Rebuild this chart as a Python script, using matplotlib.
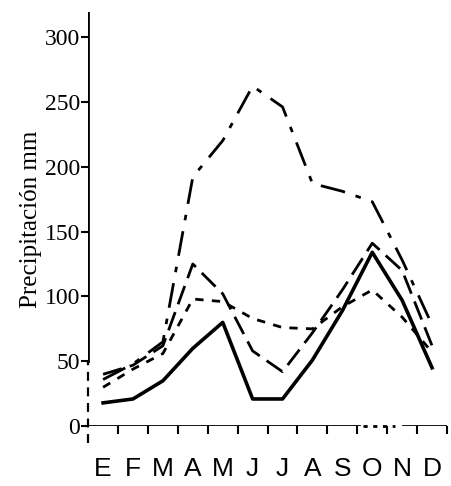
import matplotlib
matplotlib.use("Agg")
import matplotlib.pyplot as plt
import numpy as np

months = ["E", "F", "M", "A", "M", "J", "J", "A", "S", "O", "N", "D"]
y_ticks = [0, 50, 100, 150, 200, 250, 300]

# mm per month
solid = [18, 21, 35, 60, 80, 21, 21, 51, 89, 134, 97, 45]
dashed = [40, 47, 62, 125, 102, 58, 42, 72, 105, 141, 120, 62]
dashdot = [36, 48, 65, 192, 220, 262, 246, 187, 181, 173, 128, 78]
shortdash = [30, 44, 56, 98, 96, 83, 76, 75, 92, 105, 84, 57]

fig = plt.figure(figsize=(4.52, 4.86), dpi=100)
ax = fig.add_axes([0.195, 0.123, 0.794, 0.852])
x = np.arange(len(months))

ax.plot(x, dashdot, color="black", lw=2.0, ls=(0, (9, 4, 2, 4)))
ax.plot(x, shortdash, color="black", lw=2.0, ls=(0, (3, 3)))
ax.plot(x, dashed, color="black", lw=2.0, ls=(0, (7, 3)))
ax.plot(x, solid, color="black", lw=2.6)

ax.set_xlim(-0.5, 11.5)
ax.set_ylim(0, 319)

for s in ax.spines.values():
    s.set_visible(False)
# axes lines, partly broken as in the scanned original
ax.axvline(-0.5, ymin=50 / 319, ymax=1, color="black", lw=2)
ax.axvline(-0.5, ymin=-0.04, ymax=50 / 319, color="black", lw=1.6,
           ls=(0, (4, 3)), clip_on=False)
ax.axhline(0, xmin=0, xmax=0.755, color="black", lw=2)
ax.axhline(0, xmin=0.765, xmax=0.855, color="black", lw=2,
           ls=(0, (1.5, 2)), clip_on=False)
ax.axhline(0, xmin=0.878, xmax=1, color="black", lw=2)

ax.set_yticks(y_ticks)
ax.set_yticklabels([str(v) for v in y_ticks], family="Liberation Serif",
                   fontsize=17)
ax.tick_params(axis="y", direction="out", length=5, width=1.5, pad=1)

ax.set_xticks(x + 0.5)
ax.set_xticklabels([])
ax.tick_params(axis="x", which="major", direction="out", length=6, width=1.5)
ax.set_xticks(x, minor=True)
ax.set_xticklabels(months, minor=True, family="Liberation Sans", fontsize=19)
ax.tick_params(axis="x", which="minor", length=0, pad=22)

ax.set_ylabel("Precipitación mm", family="Liberation Serif", fontsize=18,
              labelpad=2)

fig.savefig("out.png", dpi=100)
